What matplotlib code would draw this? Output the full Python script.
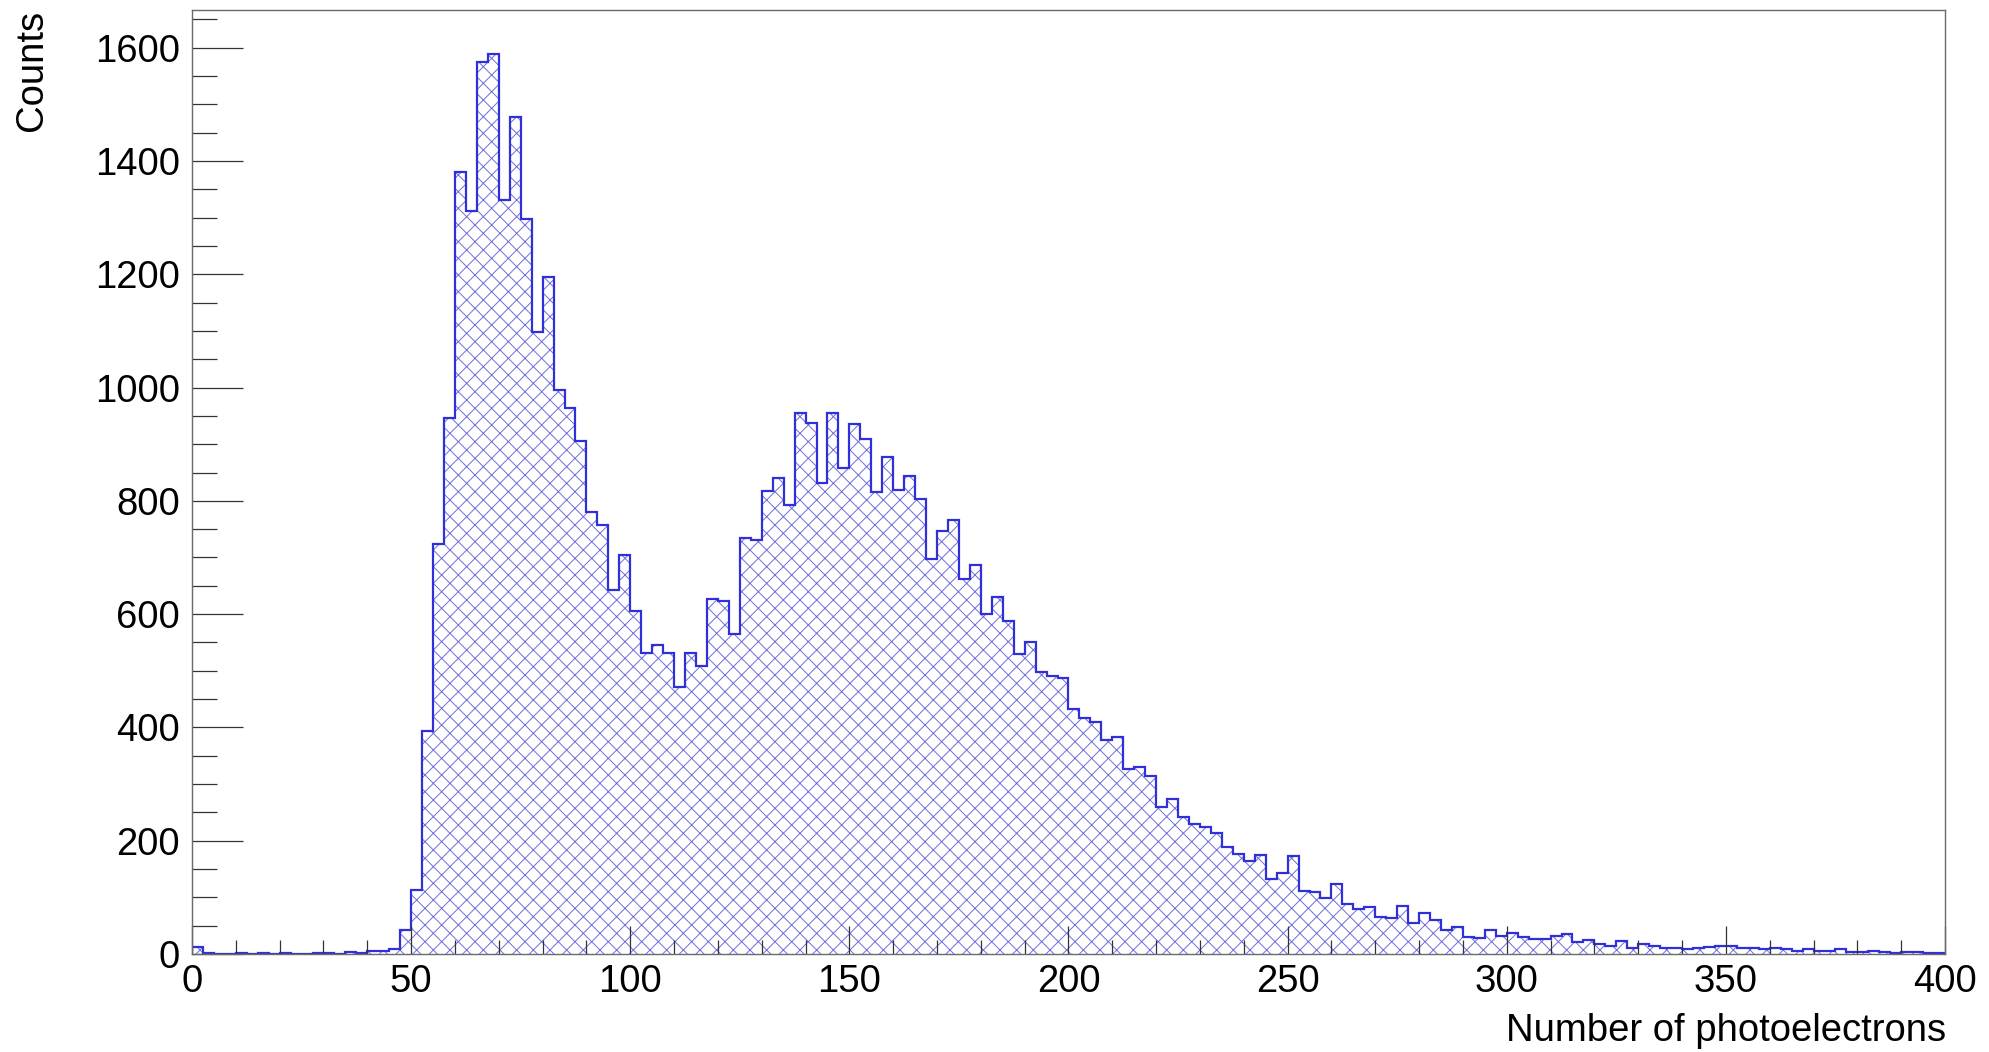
import numpy as np
import matplotlib
matplotlib.use('Agg')
import matplotlib.pyplot as plt
from matplotlib.ticker import MultipleLocator

# ============================================================
# 1. DATA (photoelectron spectrum, 160 bins of 2.5 pe from 0 to 400)
# ============================================================

x_min, x_max = 0, 400
n_bins = 160

counts = [
    12, 2, 0, 0, 2, 0, 2, 0, 2, 0,
    0, 2, 2, 0, 4, 2, 5, 5, 8, 43,
    113, 393, 723, 947, 1380, 1312, 1574, 1588, 1331, 1477,
    1298, 1098, 1196, 995, 964, 905, 781, 758, 643, 704,
    606, 531, 545, 531, 472, 531, 508, 626, 624, 565,
    734, 730, 818, 841, 793, 955, 938, 832, 955, 858,
    935, 910, 816, 878, 819, 843, 804, 698, 746, 767,
    662, 687, 600, 631, 587, 530, 551, 498, 490, 487,
    432, 416, 409, 377, 383, 326, 331, 314, 259, 273,
    241, 229, 224, 214, 189, 177, 164, 174, 132, 143,
    173, 112, 109, 98, 123, 89, 79, 83, 65, 64,
    84, 55, 73, 60, 42, 47, 30, 29, 42, 31,
    37, 30, 26, 27, 31, 36, 21, 24, 17, 15,
    23, 10, 18, 15, 11, 11, 8, 11, 12, 14,
    14, 11, 11, 8, 10, 8, 5, 8, 5, 5,
    8, 4, 4, 5, 4, 2, 4, 4, 2, 1,
]

x_label = 'Number of photoelectrons'
y_label = 'Counts'

bin_edges = np.linspace(x_min, x_max, n_bins + 1)

# ============================================================
# 2. STYLE (ROOT-like look)
# ============================================================

plt.rcParams['font.family'] = ['Liberation Sans', 'DejaVu Sans']
plt.rcParams['hatch.linewidth'] = 0.7

line_color = '#3030d8'
hatch_color = '#6e6edc'
frame_color = '#6a6a6a'

fig = plt.figure(figsize=(19.90, 10.52), dpi=100)
ax = fig.add_axes([192 / 1990, 1 - 954 / 1052, (1945 - 192) / 1990, (954 - 9.5) / 1052])

# ============================================================
# 3. HISTOGRAM
# ============================================================

# hatched fill
ax.stairs(counts, bin_edges, fill=True, facecolor='none', edgecolor=hatch_color,
          hatch='xx', linewidth=0)
# outline
ax.stairs(counts, bin_edges, fill=False, color=line_color, linewidth=1.6, baseline=0)

ax.set_xlim(x_min, x_max)
ax.set_ylim(0, max(counts) * 1.05)

# ============================================================
# 4. AXES, TICKS, LABELS
# ============================================================

for side in ['left', 'right', 'top', 'bottom']:
    ax.spines[side].set_color(frame_color)
    ax.spines[side].set_linewidth(1.0)

ax.xaxis.set_major_locator(MultipleLocator(50))
ax.xaxis.set_minor_locator(MultipleLocator(10))
ax.yaxis.set_major_locator(MultipleLocator(200))
ax.yaxis.set_minor_locator(MultipleLocator(50))

ax.tick_params(axis='x', which='major', direction='in', length=20, width=0.9,
               color='#333333', labelsize=27.5, pad=7, top=False)
ax.tick_params(axis='x', which='minor', direction='in', length=10, width=0.9,
               color='#333333', top=False)
ax.tick_params(axis='y', which='major', direction='in', length=36.5, width=0.9,
               color='#333333', labelsize=27.5, pad=8.5, right=False)
ax.tick_params(axis='y', which='minor', direction='in', length=18, width=0.9,
               color='#333333', right=False)

fig.text(32 / 1990, 1 - 10 / 1052, y_label, rotation=90, ha='center', va='top',
         fontsize=27.5)
fig.text(1946 / 1990, 1 - 1031 / 1052, x_label, ha='right', va='center',
         fontsize=27.5)

plt.savefig('out.png', dpi=100)
